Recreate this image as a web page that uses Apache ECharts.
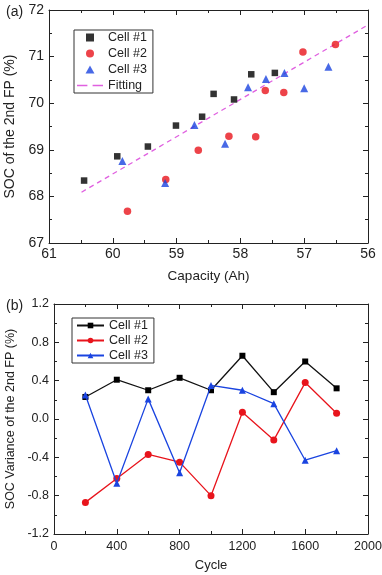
<!DOCTYPE html>
<html>
<head>
<meta charset="utf-8">
<script src="https://cdn.jsdelivr.net/npm/echarts@6/dist/echarts.min.js"></script>
<style>
html,body{margin:0;padding:0;background:#fff;}
#chart{width:382px;height:575px;}
</style>
</head>
<body>
<div id="chart"></div>
<script>
// ---- Panel (a): SOC of the 2nd FP vs capacity ----
const cell1Capacity = [60.45, 59.93, 59.45, 59.01, 58.60, 58.42, 58.10, 57.83, 57.46];
const cell1Soc      = [68.34, 68.86, 69.07, 69.52, 69.71, 70.20, 70.08, 70.62, 70.65];
const cell2Capacity = [59.77, 59.17, 58.66, 58.18, 57.76, 57.61, 57.32, 57.02, 56.51];
const cell2Soc      = [67.68, 68.36, 68.99, 69.29, 69.28, 70.27, 70.23, 71.10, 71.26];
const cell3Capacity = [59.85, 59.18, 58.72, 58.24, 57.88, 57.60, 57.31, 57.00, 56.62];
const cell3Soc      = [68.76, 68.29, 69.53, 69.13, 70.34, 70.52, 70.65, 70.32, 70.78];
const fitCapacity   = [60.49, 56.00];
const fitSoc        = [68.09, 71.68];

// ---- Panel (b): SOC variance vs cycle ----
const cycles     = [200, 400, 600, 800, 1000, 1200, 1400, 1600, 1800];
const varCell1   = [0.23, 0.41, 0.30, 0.43, 0.30, 0.66, 0.28, 0.60, 0.32];
const varCell2   = [-0.87, -0.62, -0.37, -0.45, -0.80, 0.07, -0.22, 0.38, 0.06];
const varCell3   = [0.25, -0.67, 0.21, -0.56, 0.35, 0.30, 0.16, -0.43, -0.33];

const seriesNames = ['Cell #1', 'Cell #2', 'Cell #3'];
const fitName = 'Fitting';

const FONT = "'Liberation Sans', Arial, sans-serif";
const AX = '#222';
const RED = '#e8141c';
const BLUE = '#1a44e0';
const MAG = '#e060e0';

function zip(a, b) { return a.map((v, i) => [v, b[i]]); }

const baseTick = { show: true, inside: true, length: 5, lineStyle: { color: AX, width: 1 } };
const baseMinor = { show: true, splitNumber: 2, length: 3, lineStyle: { color: AX, width: 1 } };

function mainAxis(extra) {
  return Object.assign({
    axisLine: { show: true, onZero: false, lineStyle: { color: AX, width: 1 } },
    axisTick: baseTick,
    minorTick: baseMinor,
    splitLine: { show: false },
    nameTextStyle: { fontFamily: FONT, color: '#222' }
  }, extra);
}
function mirrorAxis(extra) {
  return Object.assign({
    axisLine: { show: true, onZero: false, lineStyle: { color: AX, width: 1 } },
    axisTick: baseTick,
    minorTick: baseMinor,
    axisLabel: { show: false },
    splitLine: { show: false }
  }, extra);
}

const ICON_SQUARE = 'path://M0,0L10,0L10,10L0,10Z';
const ICON_TRI = 'path://M5,0L10,9L0,9Z';
const ICON_DASH = 'path://M0,0L8,0L8,1.3L0,1.3Z M12,0L20,0L20,1.3L12,1.3Z';

const chart = echarts.init(document.getElementById('chart'), null, { renderer: 'canvas' });

const option = {
  animation: false,
  backgroundColor: '#fff',
  title: [
    { text: '(a)', left: 1, top: 0, textStyle: { fontFamily: FONT, fontSize: 14, fontWeight: 'normal', color: '#222' } },
    { text: '(b)', left: 1, top: 294, textStyle: { fontFamily: FONT, fontSize: 14, fontWeight: 'normal', color: '#222' } }
  ],
  grid: [
    { left: 49, top: 10, right: 14, height: 233, containLabel: false, outerBoundsMode: 'none' },
    { left: 54, top: 304, right: 14, height: 230, containLabel: false, outerBoundsMode: 'none' }
  ],
  xAxis: [
    mainAxis({
      gridIndex: 0, type: 'value', inverse: true, min: 56, max: 61, interval: 1, position: 'bottom',
      name: 'Capacity (Ah)', nameLocation: 'middle', nameGap: 26,
      nameTextStyle: { fontFamily: FONT, fontSize: 13.5, color: '#222' },
      axisLabel: { fontFamily: FONT, fontSize: 14, color: '#222', margin: 4 }
    }),
    mirrorAxis({ gridIndex: 0, type: 'value', inverse: true, min: 56, max: 61, interval: 1, position: 'top' }),
    mainAxis({
      gridIndex: 1, type: 'value', min: 0, max: 2000, interval: 400, position: 'bottom',
      name: 'Cycle', nameLocation: 'middle', nameGap: 25,
      nameTextStyle: { fontFamily: FONT, fontSize: 13, color: '#222' },
      axisLabel: { fontFamily: FONT, fontSize: 12.5, color: '#222', margin: 6, formatter: v => String(v) }
    }),
    mirrorAxis({ gridIndex: 1, type: 'value', min: 0, max: 2000, interval: 400, position: 'top' })
  ],
  yAxis: [
    mainAxis({
      gridIndex: 0, type: 'value', min: 67, max: 72, interval: 1, position: 'left',
      name: 'SOC of the 2nd FP (%)', nameLocation: 'middle', nameGap: 32,
      nameTextStyle: { fontFamily: FONT, fontSize: 14, color: '#222' },
      axisLabel: { fontFamily: FONT, fontSize: 14, color: '#222', margin: 5 }
    }),
    mirrorAxis({ gridIndex: 0, type: 'value', min: 67, max: 72, interval: 1, position: 'right' }),
    mainAxis({
      gridIndex: 1, type: 'value', min: -1.2, max: 1.2, interval: 0.4, position: 'left',
      name: 'SOC Variance of the 2nd FP (%)', nameLocation: 'middle', nameGap: 37,
      nameTextStyle: { fontFamily: FONT, fontSize: 12.5, color: '#222' },
      axisLabel: { fontFamily: FONT, fontSize: 12.5, color: '#222', margin: 5,
        formatter: v => (Math.abs(v) < 1e-9 ? 0 : v).toFixed(1) }
    }),
    mirrorAxis({ gridIndex: 1, type: 'value', min: -1.2, max: 1.2, interval: 0.4, position: 'right' })
  ],
  legend: [
    {
      data: [
        { name: seriesNames[0], icon: ICON_SQUARE },
        { name: seriesNames[1], icon: 'circle' },
        { name: seriesNames[2], icon: ICON_TRI },
        { name: fitName, icon: ICON_DASH }
      ],
      symbolKeepAspect: true,
      orient: 'vertical', left: 74, top: 30,
      itemWidth: 26, itemHeight: 8, itemGap: 3,
      padding: [1, 6, 1, 3],
      borderColor: '#333', borderWidth: 1,
      selectedMode: false,
      textStyle: { fontFamily: FONT, fontSize: 12.5, color: '#222', lineHeight: 12 }
    },
    {
      data: seriesNames.map(n => 'b:' + n),
      formatter: n => n.replace('b:', ''),
      orient: 'vertical', left: 72, top: 318,
      itemWidth: 27, itemHeight: 7, itemGap: 2,
      padding: [1, 6, 1, 4],
      borderColor: '#333', borderWidth: 1,
      selectedMode: false,
      textStyle: { fontFamily: FONT, fontSize: 12.5, color: '#222', lineHeight: 12 }
    }
  ],
  series: [
    { name: fitName, type: 'line', xAxisIndex: 0, yAxisIndex: 0, data: zip(fitCapacity, fitSoc),
      symbol: 'none', lineStyle: { color: MAG, width: 1.3, type: [5, 4] }, itemStyle: { color: MAG }, z: 1 },
    { name: seriesNames[0], type: 'scatter', xAxisIndex: 0, yAxisIndex: 0, data: zip(cell1Capacity, cell1Soc),
      symbol: 'rect', symbolSize: 6.5, itemStyle: { color: '#000' }, z: 3 },
    { name: seriesNames[1], type: 'scatter', xAxisIndex: 0, yAxisIndex: 0, data: zip(cell2Capacity, cell2Soc),
      symbol: 'circle', symbolSize: 7.5, itemStyle: { color: RED }, z: 3 },
    { name: seriesNames[2], type: 'scatter', xAxisIndex: 0, yAxisIndex: 0, data: zip(cell3Capacity, cell3Soc),
      symbol: 'triangle', symbolSize: 8, itemStyle: { color: BLUE }, z: 3 },

    { name: 'b:' + seriesNames[0], type: 'line', xAxisIndex: 2, yAxisIndex: 2, data: zip(cycles, varCell1),
      symbol: 'rect', symbolSize: 6, showAllSymbol: true,
      lineStyle: { color: '#111', width: 1.3 }, itemStyle: { color: '#000' }, z: 2 },
    { name: 'b:' + seriesNames[1], type: 'line', xAxisIndex: 2, yAxisIndex: 2, data: zip(cycles, varCell2),
      symbol: 'circle', symbolSize: 7, showAllSymbol: true,
      lineStyle: { color: RED, width: 1.3 }, itemStyle: { color: RED }, z: 3 },
    { name: 'b:' + seriesNames[2], type: 'line', xAxisIndex: 2, yAxisIndex: 2, data: zip(cycles, varCell3),
      symbol: 'triangle', symbolSize: 7, showAllSymbol: true,
      lineStyle: { color: BLUE, width: 1.3 }, itemStyle: { color: BLUE }, z: 4 }
  ]
};

chart.setOption(option);
</script>
</body>
</html>
